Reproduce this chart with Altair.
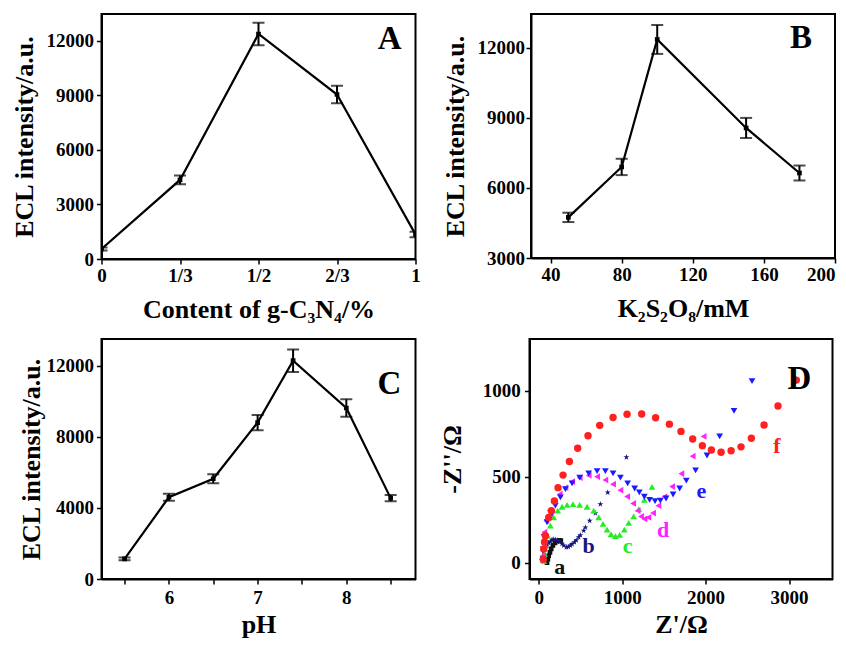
import altair as alt
import pandas as pd

FONT = "Liberation Serif"

# ---------------- Panel A : content of g-C3N4 ----------------
a_labels = ["0", "1/3", "1/2", "2/3", "1"]
a_x = [0, 1, 2, 3, 4]
a_y = [550, 4350, 12380, 9050, 1350]
a_err = [80, 240, 620, 480, 150]

# ---------------- Panel B : K2S2O8 concentration ----------------
b_x = [50, 80, 100, 150, 180]
b_y = [4740, 6900, 12360, 8570, 6640]
b_err = [200, 350, 620, 430, 320]

# ---------------- Panel C : pH ----------------
c_x = [5.5, 6, 6.5, 7, 7.4, 8, 8.5]
c_y = [1130, 4600, 5640, 8800, 12280, 9620, 4550]
c_err = [80, 200, 250, 430, 630, 490, 180]
c_ticks = [5.5, 6, 6.5, 7, 7.5, 8, 8.5]
c_tick_labels = ["", "6", "", "7", "", "8", ""]

# ---------------- Panel D : EIS (Nyquist) ----------------
fa_x = [100, 110, 120, 135, 150, 170, 195, 220, 245, 265]
fa_y = [0, 20, 40, 60, 80, 100, 115, 125, 130, 128]

fb_x = [40, 50, 60, 75, 100, 120, 140, 160, 180, 200, 228, 250, 280, 300, 332, 355, 380, 400,
        428, 450, 479, 500, 539, 560, 611, 679, 739, 827, 1051]
fb_y = [13, 35, 61, 80, 100, 115, 123, 133, 135, 133, 129, 120, 110, 100, 90, 92, 100, 108,
        119, 130, 148, 160, 186, 205, 244, 288, 340, 408, 613]

fc_x = [62, 70, 80, 108, 140, 180, 228, 280, 340, 412, 491, 580, 659, 719, 771, 819, 867, 919,
        970, 1026, 1078, 1138, 1198, 1266, 1358]
fc_y = [10, 50, 100, 158, 215, 263, 302, 325, 336, 340, 336, 325, 302, 263, 225, 192, 165, 154,
        161, 192, 231, 269, 311, 365, 440]

fd_x = [52, 60, 68, 92, 132, 180, 252, 320, 400, 491, 599, 700, 799, 891, 979, 1059, 1131, 1186,
        1226, 1266, 1314, 1370, 1434, 1506, 1598, 1709, 1845, 1976]
fd_y = [40, 110, 177, 244, 302, 350, 398, 436, 471, 494, 507, 500, 481, 456, 421, 384, 344, 302,
        269, 254, 263, 288, 331, 383, 442, 517, 619, 734]

fe_x = [52, 58, 65, 100, 160, 200, 260, 320, 400, 491, 599, 700, 799, 891, 979, 1066, 1150, 1206,
        1266, 1329, 1394, 1458, 1526, 1610, 1689, 1769, 1880, 2017, 2168, 2340, 2556]
fe_y = [20, 80, 150, 235, 283, 331, 379, 427, 461, 494, 519, 532, 532, 519, 494, 461, 431, 408,
        383, 365, 358, 361, 373, 396, 431, 477, 536, 623, 734, 882, 1055]

ff_x = [55, 60, 70, 80, 120, 152, 188, 232, 292, 368, 467, 591, 731, 891, 1059, 1234, 1401, 1566,
        1705, 1845, 1961, 2069, 2185, 2305, 2424, 2548, 2700, 2867, 3087]
ff_y = [20, 80, 120, 157, 263, 302, 359, 436, 509, 588, 665, 738, 798, 844, 863, 864, 842, 805,
        763, 719, 680, 655, 642, 650, 673, 723, 800, 911, 1061]

d_names = ["a", "b", "c", "d", "e", "f"]
d_colors = ["#111111", "#16167e", "#22ee22", "#ff22ff", "#1a1aff", "#ff2020"]
d_label_x = [251, 599, 1066, 1490, 1948, 2855]
d_label_y = [-25, 94, 94, 192, 417, 677]

STAR = ("M0,-1L0.2245,-0.309L0.951,-0.309L0.363,0.118L0.588,0.809L0,0.382"
        "L-0.588,0.809L-0.363,0.118L-0.951,-0.309L-0.2245,-0.309Z")


def make_axis(values, title, title_pad, label_pad=3, label_expr=None, fmt="d", flush=False):
    kw = dict(values=values, title=title, titlePadding=title_pad, labelPadding=label_pad,
              labelFlush=flush)
    if fmt is not None:
        kw["format"] = fmt
    if label_expr is not None:
        kw["labelExpr"] = label_expr
    return alt.Axis(**kw)


def letter_layer(letter, lx, ly, xs, ys, xa, ya):
    return alt.Chart(pd.DataFrame({"t": [letter]})).mark_text(
        font=FONT, fontWeight="bold", fontSize=33, color="black"
    ).encode(
        x=alt.X("lx:Q", scale=xs, axis=xa), y=alt.Y("ly:Q", scale=ys, axis=ya), text="t:N"
    ).transform_calculate(lx=str(lx), ly=str(ly))


def ecl_panel(xv, yv, ev, xs, ys, xa, ya, w, h, letter, lx, ly):
    df = pd.DataFrame({"x": xv, "y": yv,
                       "lo": [v - e for v, e in zip(yv, ev)],
                       "hi": [v + e for v, e in zip(yv, ev)]})
    base = alt.Chart(df)
    X = alt.X("x:Q", scale=xs, axis=xa)
    line = base.mark_line(color="black", strokeWidth=2.2, clip=True).encode(
        x=X, y=alt.Y("y:Q", scale=ys, axis=ya))
    pts = base.mark_point(shape="square", filled=True, color="black", size=22,
                          opacity=1, clip=True).encode(x=X, y=alt.Y("y:Q", scale=ys, axis=ya))
    bar = base.mark_rule(color="black", strokeWidth=2, clip=True).encode(
        x=X, y=alt.Y("lo:Q", scale=ys, axis=ya), y2="hi:Q")
    cap_lo = base.mark_tick(color="black", thickness=2, size=12, orient="horizontal",
                            clip=True).encode(x=X, y=alt.Y("lo:Q", scale=ys, axis=ya))
    cap_hi = base.mark_tick(color="black", thickness=2, size=12, orient="horizontal",
                            clip=True).encode(x=X, y=alt.Y("hi:Q", scale=ys, axis=ya))
    lab = letter_layer(letter, lx, ly, xs, ys, xa, ya)
    return alt.layer(line, bar, cap_lo, cap_hi, pts, lab).properties(width=w, height=h)


# Panel A
a_xs = alt.Scale(domain=[0, 4], nice=False, zero=False)
a_ys = alt.Scale(domain=[0, 13480], nice=False)
a_xa = make_axis(a_x, "Content of g-C₃N₄/%", 10.5, 2.5,
                 label_expr="['0','1/3','1/2','2/3','1'][datum.value]")
a_ya = make_axis([0, 3000, 6000, 9000, 12000], "ECL intensity/a.u.", 9, 3)
chart_a = ecl_panel(a_x, a_y, a_err, a_xs, a_ys, a_xa, a_ya, 314, 245, "A", 3.67, 12077)

# Panel B
b_xs = alt.Scale(domain=[29, 200], nice=False, zero=False)
b_ys = alt.Scale(domain=[3000, 13450], nice=False, zero=False)
b_xa = make_axis([40, 80, 120, 160, 200], "K₂S₂O₈/mM", 10.5, 2.5, flush=True)
b_ya = make_axis([3000, 6000, 9000, 12000], "ECL intensity/a.u.", 9, 1.5)
chart_b = ecl_panel(b_x, b_y, b_err, b_xs, b_ys, b_xa, b_ya, 304, 244, "B", 180.9, 12435)

# Panel C
c_xs = alt.Scale(domain=[5.24, 8.78], nice=False, zero=False)
c_ys = alt.Scale(domain=[0, 13500], nice=False)
c_xa = make_axis(c_ticks, "pH", 4, 4,
                 label_expr="['','6','','7','','8',''][round(datum.value * 2) - 11]",
                 fmt=None)
c_ya = make_axis([0, 4000, 8000, 12000], "ECL intensity/a.u.", 2, 3)
chart_c = ecl_panel(c_x, c_y, c_err, c_xs, c_ys, c_xa, c_ya, 314, 240, "C", 8.487, 10970)

# Panel D
d_xs = alt.Scale(domain=[-110, 3520], nice=False, zero=False)
d_ys = alt.Scale(domain=[-95, 1300], nice=False, zero=False)
d_xa = make_axis([0, 1000, 2000, 3000], "Z'/Ω", 4, 4)
d_ya = make_axis([0, 500, 1000], "-Z''/Ω", 16.5, 4.3)
DX = alt.X("x:Q", scale=d_xs, axis=d_xa)
DY = alt.Y("y:Q", scale=d_ys, axis=d_ya)

series = [
    (fa_x, fa_y, "square", d_colors[0], 22),
    (fb_x, fb_y, STAR, d_colors[1], 40),
    (fc_x, fc_y, "triangle-up", d_colors[2], 45),
    (fd_x, fd_y, "triangle-left", d_colors[3], 45),
    (fe_x, fe_y, "triangle-down", d_colors[4], 45),
    (ff_x, ff_y, "circle", d_colors[5], 55),
]
d_layers = []
for xs_, ys_, shp, col, sz in series:
    d_layers.append(
        alt.Chart(pd.DataFrame({"x": xs_, "y": ys_})).mark_point(
            shape=shp, filled=True, color=col, size=sz, opacity=1, clip=True
        ).encode(x=DX, y=DY)
    )
lab_df = pd.DataFrame({"x": d_label_x, "y": d_label_y, "name": d_names, "col": d_colors})
d_text = alt.Chart(lab_df).mark_text(font=FONT, fontWeight="bold", fontSize=22).encode(
    x=DX, y=DY, text="name:N",
    color=alt.Color("col:N", scale=None, legend=None))
d_letter = letter_layer("D", 3125, 1067, d_xs, d_ys, d_xa, d_ya)
chart_d = alt.layer(*d_layers, d_text, d_letter).properties(width=303, height=240)

chart = alt.vconcat(
    alt.hconcat(chart_a, chart_b, spacing=19.5),
    alt.hconcat(chart_c, chart_d, spacing=22),
    spacing=15,
).properties(
    padding={"left": 1.5, "top": 5, "right": 0, "bottom": 0},
    background="white",
).configure_view(
    stroke="black", strokeWidth=2, fill="white"
).configure_axis(
    grid=False,
    domainColor="black", domainWidth=2,
    tickColor="black", tickWidth=1.5, tickSize=5,
    labelFont=FONT, labelFontSize=19, labelFontWeight="bold", labelColor="black",
    titleFont=FONT, titleFontSize=26, titleFontWeight="bold", titleColor="black",
    labelOverlap=False,
)

chart.save("out.html", embed_options={"renderer": "svg", "actions": False})
